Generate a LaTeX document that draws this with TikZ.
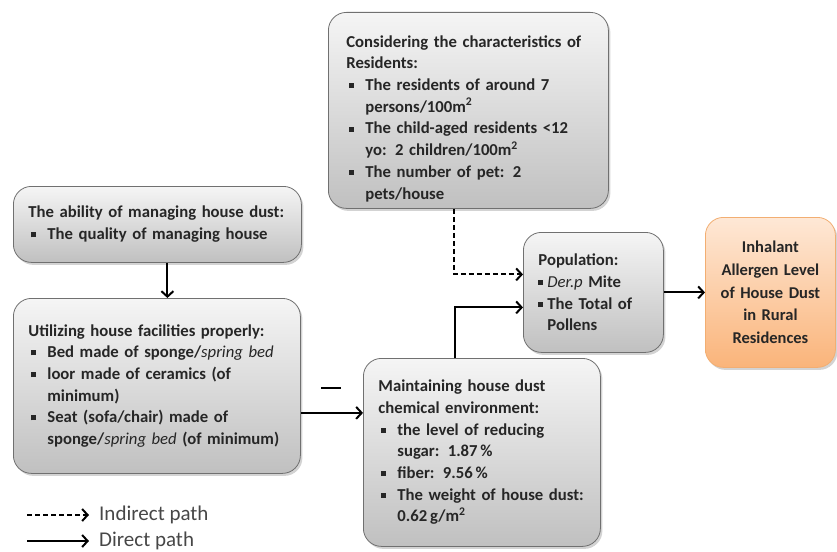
\documentclass[tikz,border=0pt]{standalone}
\usepackage{fontspec}
\setmainfont{Carlito}
\usetikzlibrary{arrows.meta,shadows}
\hyphenpenalty=10000
\exhyphenpenalty=10000

\definecolor{boxtop}{HTML}{F5F5F5}
\definecolor{boxbot}{HTML}{C0C0C0}
\definecolor{boxline}{HTML}{707070}
\definecolor{orgtop}{HTML}{FEE8D6}
\definecolor{orgbot}{HTML}{FAB47A}
\definecolor{orgline}{HTML}{F2AE72}
\definecolor{textc}{HTML}{262626}

% small square bullet, items and their continuation lines
\newcommand{\sqb}{\raisebox{0.3ex}{\rule{5pt}{5pt}}}
\newcommand{\bitem}{\\\hspace*{3pt}\makebox[16pt][l]{\sqb}}
\newcommand{\bcont}{\\\hspace*{19pt}}
\newcommand{\titem}{\\\makebox[9pt][l]{\sqb}}
\newcommand{\tcont}{\\\hspace*{9pt}}

\begin{document}
\begin{tikzpicture}[
        x=1pt, y=-1pt,
        box/.style={draw=boxline, line width=0.8pt, rounded corners=18pt,
            top color=boxtop, bottom color=boxbot,
            drop shadow={opacity=0.35, shadow xshift=2pt, shadow yshift=-2.5pt},
            anchor=north west, align=left, inner xsep=15pt, inner ysep=6pt,
            text=textc, font=\fontsize{16.7}{21.7}\selectfont\bfseries},
        result/.style={box, top color=orgtop, bottom color=orgbot, draw=orgline,
            align=center, inner xsep=8pt, font=\fontsize{16.5}{22.7}\selectfont\bfseries},
        legend/.style={anchor=west, inner sep=0pt, text=textc!85,
            font=\fontsize{21}{22}\selectfont},
        direct/.style={line width=2pt, -{Straight Barb[length=5.5pt,width=12pt]}},
        indirect/.style={direct, dash pattern=on 5pt off 3pt}
    ]
    \useasboundingbox (0,0) rectangle (837,551);

    % boxes
    \node[box, text width=258pt, minimum height=76pt] (ability) at (13,186)
        {The ability of managing house dust:\bitem The quality of managing house};
    \node[box, text width=257pt, minimum height=175pt] (facility) at (13,298)
        {Utilizing house facilities properly:
         \bitem Bed made of sponge/\textit{\mdseries spring bed}
         \bitem loor made of ceramics (of\bcont minimum)
         \bitem Seat (sofa/chair) made of\bcont sponge/\textit{\mdseries spring bed} (of minimum)};
    \node[box, text width=207pt, minimum height=188pt] (dust) at (363,358)
        {Maintaining house dust\\chemical environment:
         \bitem the level of reducing\bcont sugar: 1.87\,\%
         \bitem fiber: 9.56\,\%
         \bitem The weight of house dust:\bcont 0.62\,g/m\textsuperscript{2}};
    \node[box, text width=244pt, minimum height=196pt, inner xsep=18pt] (resid) at (328,12)
        {\rule{0pt}{28pt}Considering the characteristics of\\Residents:
         \bitem The residents of around 7\bcont persons/100m\textsuperscript{2}
         \bitem The child-aged residents <12\bcont yo: 2 children/100m\textsuperscript{2}
         \bitem The number of pet: 2\bcont pets/house};
    \node[box, text width=110pt, minimum height=120pt] (pop) at (523,232)
        {Population:\titem\textit{\mdseries Der.p} Mite\titem The Total of\tcont Pollens};
    \node[result, text width=114pt, minimum height=150pt] (aller) at (705,217)
        {Inhalant\\Allergen Level\\of House Dust\\in Rural\\Residences};

    % minus sign
    \node[inner sep=0pt] (minus) at (331,388) {\rule{20pt}{2.5pt}};

    % paths
    \draw[direct] ([xshift=10pt]ability.south) -- ([xshift=10pt]ability.south |- facility.north);
    \draw[direct] ([yshift=-27pt]facility.east) -- ([yshift=-27pt]facility.east -| dust.west);
    \draw[direct] ([xshift=-27pt]dust.north) |- ([yshift=-15pt]pop.west);
    \draw[indirect] ([xshift=-14pt]resid.south) |- ([yshift=18pt]pop.west);
    \draw[direct] (pop) -- (aller);

    % legend
    \node[legend] (indtxt) at (99,515) {Indirect path};
    \node[legend] (dirtxt) at (99,541) {Direct path};
    \coordinate (indstart) at (27,515);
    \coordinate (dirstart) at (27,541);
    \draw[indirect, shorten >=10pt] (indstart) -- (indtxt.west);
    \draw[direct, shorten >=10pt] (dirstart) -- (dirtxt.west);
\end{tikzpicture}
\end{document}
